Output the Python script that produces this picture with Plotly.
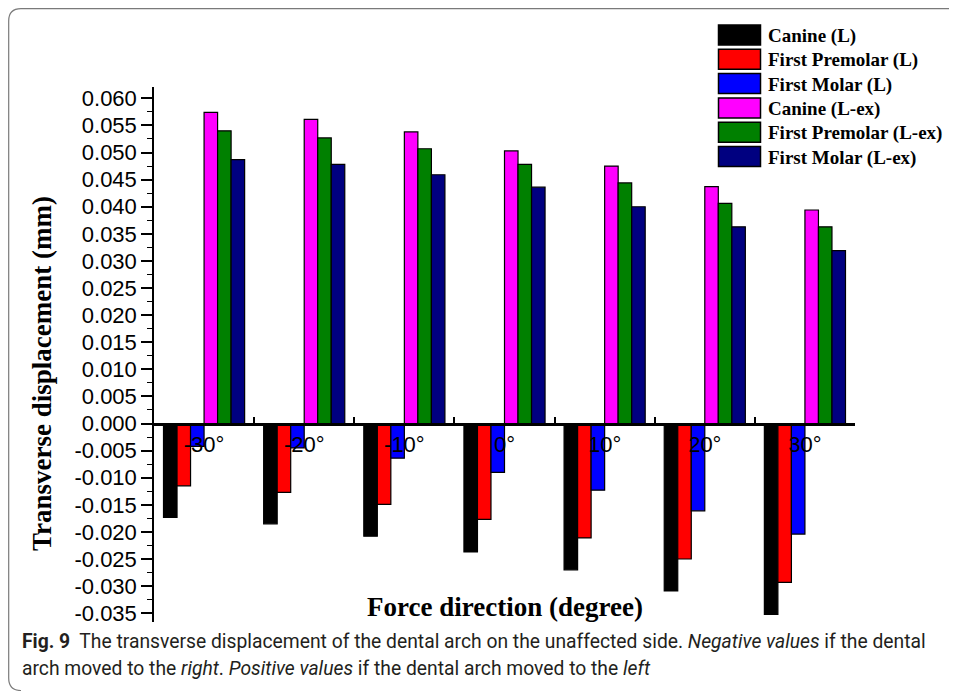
import plotly.graph_objects as go

# ---- data ----
categories = ["-30°", "-20°", "-10°", "0°", "10°", "20°", "30°"]
canine_L = [-0.0173, -0.0185, -0.0208, -0.0237, -0.0270, -0.0309, -0.0352]
premolar_L = [-0.0115, -0.0127, -0.0149, -0.0177, -0.0211, -0.0250, -0.0293]
molar_L = [-0.0042, -0.0045, -0.0064, -0.0090, -0.0123, -0.0161, -0.0204]
canine_Lex = [0.0574, 0.0561, 0.0538, 0.0503, 0.0475, 0.0437, 0.0394]
premolar_Lex = [0.0540, 0.0527, 0.0507, 0.0478, 0.0444, 0.0406, 0.0363]
molar_Lex = [0.0487, 0.0478, 0.0459, 0.0436, 0.0400, 0.0363, 0.0319]

series_names = ["Canine (L)", "First Premolar (L)", "First Molar (L)",
                "Canine (L-ex)", "First Premolar (L-ex)", "First Molar (L-ex)"]
series_values = [canine_L, premolar_L, molar_L, canine_Lex, premolar_Lex, molar_Lex]
series_colors = ["#000000", "#FF0000", "#0000FF", "#FF00FF", "#008000", "#000080"]

ytick_vals = [round(-0.035 + 0.005 * i, 3) for i in range(20)]
ytick_text = ["%.3f" % v if abs(v) > 1e-9 else "0.000" for v in ytick_vals]

# ---- geometry (pixels, page coordinates; page body has an 8px margin) ----
OFF = 8
W, H = 957 - OFF, 691 - OFF
PLOT_L, PLOT_R, PLOT_T, PLOT_B = 154, 855, 87, 622   # page px
L = PLOT_L - OFF
T = PLOT_T - OFF
R = W - (PLOT_R - OFF)
B = H - (PLOT_B - OFF)
PW, PH = PLOT_R - PLOT_L, PLOT_B - PLOT_T
y_min, y_max = -0.03662, 0.06209

def px_x(px):
    return (px - PLOT_L) / PW

def px_y(py):
    return (PLOT_B - py) / PH

fig = go.Figure()
for name, vals, col in zip(series_names, series_values, series_colors):
    fig.add_trace(go.Bar(
        x=categories, y=vals, name=name, showlegend=False,
        marker=dict(color=col, line=dict(color="black", width=1.2)),
    ))

zero_pos = (0 - y_min) / (y_max - y_min)

fig.update_layout(
    width=W, height=H,
    margin=dict(l=L, r=R, t=T, b=B, pad=0),
    paper_bgcolor="white", plot_bgcolor="white",
    barmode="group", bargap=0.19, bargroupgap=0,
    showlegend=False,
    xaxis=dict(
        type="category", range=[-0.5, 6.5],
        anchor="free", position=zero_pos,
        showline=True, linecolor="black", linewidth=2.5,
        ticks="inside", tickson="boundaries", ticklen=6, tickwidth=1.5, tickcolor="black",
        tickfont=dict(family="Liberation Sans", size=22, color="black"),
        ticklabelstandoff=0,
        showgrid=False, zeroline=False, fixedrange=True,
    ),
    yaxis=dict(
        range=[y_min, y_max],
        tickmode="array", tickvals=ytick_vals, ticktext=ytick_text,
        showline=True, linecolor="black", linewidth=1.5,
        ticks="outside", ticklen=11, tickwidth=1.5, tickcolor="black",
        minor=dict(ticks="outside", ticklen=5, tickwidth=1.2, tickcolor="black",
                   dtick=0.0025, tick0=0, showgrid=False),
        tickfont=dict(family="Liberation Sans", size=22, color="black"),
        showgrid=False, zeroline=False, fixedrange=True,
    ),
)

# legend (Origin-style, large swatches)
LEG_Y0, LEG_DY = 35, 24.3
for i, (name, col) in enumerate(zip(series_names, series_colors)):
    cy = LEG_Y0 + LEG_DY * i
    fig.add_shape(type="rect", xref="paper", yref="paper",
                  x0=px_x(718.5), x1=px_x(760.5), y0=px_y(cy - 10), y1=px_y(cy + 10),
                  fillcolor=col, line=dict(color="black", width=1.5))
    fig.add_annotation(text=name, x=px_x(766), y=px_y(cy + 1), xref="paper", yref="paper",
                       showarrow=False, xanchor="left", yanchor="middle",
                       font=dict(family="Liberation Serif", size=19, color="black", weight="bold"))

# axis titles as annotations
fig.add_annotation(
    text="Transverse displacement (mm)", textangle=-90,
    x=px_x(42), y=px_y(374), xref="paper", yref="paper",
    showarrow=False, xanchor="center", yanchor="middle",
    font=dict(family="Liberation Serif", size=27, color="black", weight="bold"),
)
fig.add_annotation(
    text="Force direction (degree)",
    x=px_x(505), y=px_y(607), xref="paper", yref="paper",
    showarrow=False, xanchor="center", yanchor="middle",
    font=dict(family="Liberation Serif", size=27, color="black", weight="bold"),
)

# caption
cap_font = dict(family="Roboto", size=19.3, color="#231f20")
fig.add_annotation(
    text="<b>Fig. 9</b>  The transverse displacement of the dental arch on the unaffected side. "
         "<i>Negative values</i> if the dental",
    x=px_x(20), y=px_y(641), xref="paper", yref="paper",
    showarrow=False, xanchor="left", yanchor="middle", align="left", font=cap_font,
)
fig.add_annotation(
    text="arch moved to the <i>right</i>. <i>Positive values</i> if the dental arch moved to the <i>left</i>",
    x=px_x(20), y=px_y(668), xref="paper", yref="paper",
    showarrow=False, xanchor="left", yanchor="middle", align="left", font=cap_font,
)

# rounded frame (page px)
pts = [(960, 8.7), (21, 8.7), (8.7, 8.7), (8.7, 21), (8.7, 678), (8.7, 690.5), (21, 690.5)]
path = "M {:.5f},{:.5f} L {:.5f},{:.5f} Q {:.5f},{:.5f} {:.5f},{:.5f} L {:.5f},{:.5f} Q {:.5f},{:.5f} {:.5f},{:.5f}".format(
    *[c for p in pts for c in (px_x(p[0]), px_y(p[1]))])
fig.add_shape(type="path", path=path, xref="paper", yref="paper",
              line=dict(color="#7a7a7a", width=1.2), layer="below")

fig.write_html("out.html")
